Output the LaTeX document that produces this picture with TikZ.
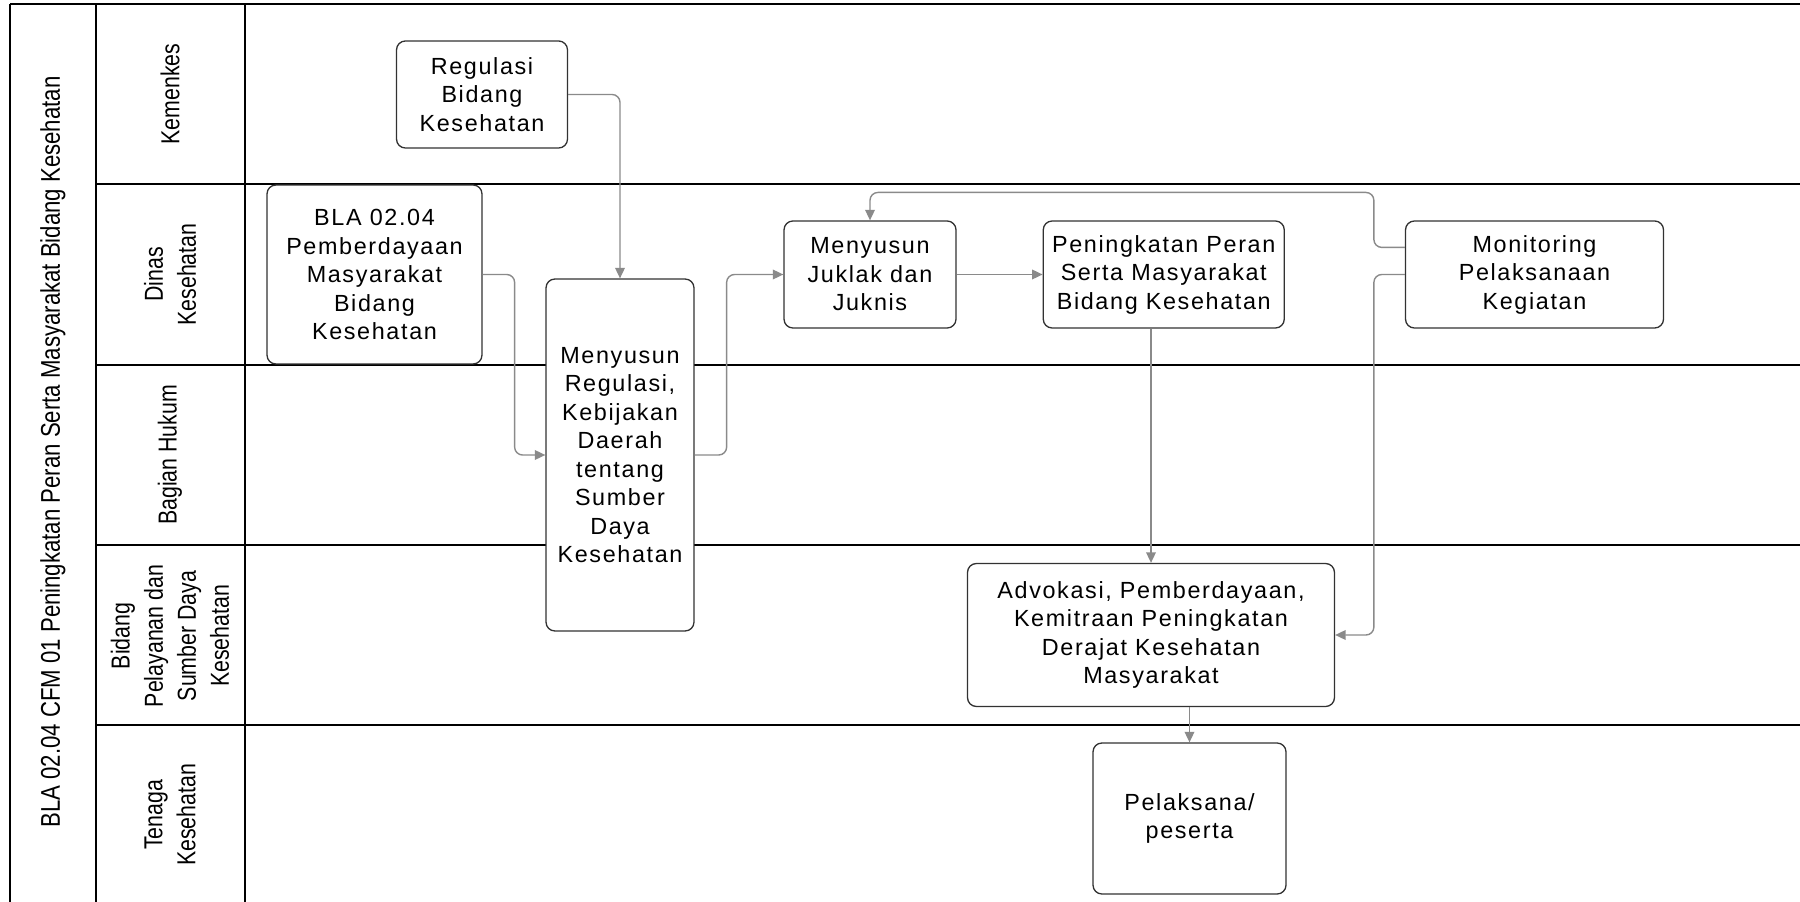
\documentclass[tikz,border=0pt]{standalone}
\usepackage{fontspec}
\setmainfont{Liberation Sans}
\newfontfamily\boxfont{Liberation Sans}[LetterSpace=7]
\newfontfamily\lanefont{Liberation Sans}[FakeStretch=0.82]
\usepackage{xcolor}
\usetikzlibrary{arrows.meta,positioning,calc}
\definecolor{flowgray}{RGB}{138,138,138}
\definecolor{boxline}{RGB}{50,50,50}

\begin{document}
\begin{tikzpicture}[
    x=0.02cm, y=-0.02cm,
    stepbox/.style={rectangle, draw=boxline, line width=0.75pt, rounded corners=5pt,
                    align=center, inner sep=2pt, fill=white,
                    font=\boxfont\fontsize{13.3}{16.2}\selectfont},
    lanelabel/.style={rotate=90, align=center,
                      font=\lanefont\fontsize{14.8}{18.8}\selectfont},
    laneline/.style={line width=1.1pt, black},
    flow/.style={draw=flowgray, line width=0.8pt, rounded corners=4.5pt,
                 -{Triangle[length=6pt,width=5.5pt]}}
  ]
  \useasboundingbox (0,0) rectangle (1800,902);

  %% Swimlane frame
  \draw[laneline] (10,4) -- (1800,4);
  \foreach \ly in {184,365,545,725}
    \draw[laneline] (96,\ly) -- (1800,\ly);
  \draw[laneline] (10,4) -- (10,902);
  \draw[laneline] (96,4) -- (96,902);
  \draw[laneline] (245,4) -- (245,902);

  %% Title and lane labels
  \node[lanelabel, font=\lanefont\fontsize{15.4}{18.8}\selectfont] (title) at (53,452)
        {BLA 02.04 CFM 01 Peningkatan Peran Serta Masyarakat Bidang Kesehatan};
  \node[lanelabel] (lkemenkes) at (170,94) {Kemenkes};
  \node[lanelabel] (ldinas) at (170,274.5) {Dinas\\Kesehatan};
  \node[lanelabel] (lhukum) at (170,455) {Bagian Hukum};
  \node[lanelabel] (lbidang) at (170,636) {Bidang\\Pelayanan dan\\Sumber Daya\\Kesehatan};
  \node[lanelabel] (ltenaga) at (170,815) {Tenaga\\Kesehatan};

  %% Process steps
  \node[stepbox, minimum width=3.42cm, minimum height=2.14cm] (regbid) at (482,94.5)
        {Regulasi\\Bidang\\Kesehatan};
  \node[stepbox, minimum width=4.3cm, minimum height=3.58cm] (bla) at (374.5,274.5)
        {BLA 02.04\\Pemberdayaan\\Masyarakat\\Bidang\\Kesehatan};
  \node[stepbox, minimum width=2.96cm, minimum height=7.04cm] (menreg) at (620,455)
        {Menyusun\\Regulasi,\\Kebijakan\\Daerah\\tentang\\Sumber\\Daya\\Kesehatan};
  \node[stepbox, minimum width=3.44cm, minimum height=2.14cm] (juklak) at (870,274.5)
        {Menyusun\\Juklak dan\\Juknis};
  \node[stepbox, minimum width=4.82cm, minimum height=2.14cm, right=1.72cm of juklak] (peran)
        {Peningkatan Peran\\Serta Masyarakat\\Bidang Kesehatan};
  \node[stepbox, minimum width=5.16cm, minimum height=2.14cm, right=2.4cm of peran] (monit)
        {Monitoring\\Pelaksanaan\\Kegiatan};
  \node[stepbox, minimum width=7.34cm, minimum height=2.86cm] (advok) at (1151,635)
        {Advokasi, Pemberdayaan,\\Kemitraan Peningkatan\\Derajat Kesehatan\\Masyarakat};
  \node[stepbox, minimum width=3.86cm, minimum height=3.02cm] (pelak) at (1189.5,818.5)
        {Pelaksana/\\peserta};

  %% Connectors
  \coordinate (monup) at ($(monit.north west)!0.25!(monit.south west)$);
  \draw[flow] (regbid.east) -| (menreg.north);
  \draw[flow] (bla.east) -- ++(0.64cm,0) |- (menreg.west);
  \draw[flow] (menreg.east) -- ++(0.64cm,0) |- (juklak.west);
  \draw[flow] (juklak) -- (peran);
  \draw[flow] (advok.north |- peran.south) -- (advok.north);
  \draw[flow] (monup) -- ++(-0.62cm,0) -- ++(0,1.1cm) -| (juklak.north);
  \draw[flow] (monit.west) -- ++(-0.62cm,0) |- (advok.east);
  \draw[flow] (pelak.north |- advok.south) -- (pelak.north);

\end{tikzpicture}
\end{document}
